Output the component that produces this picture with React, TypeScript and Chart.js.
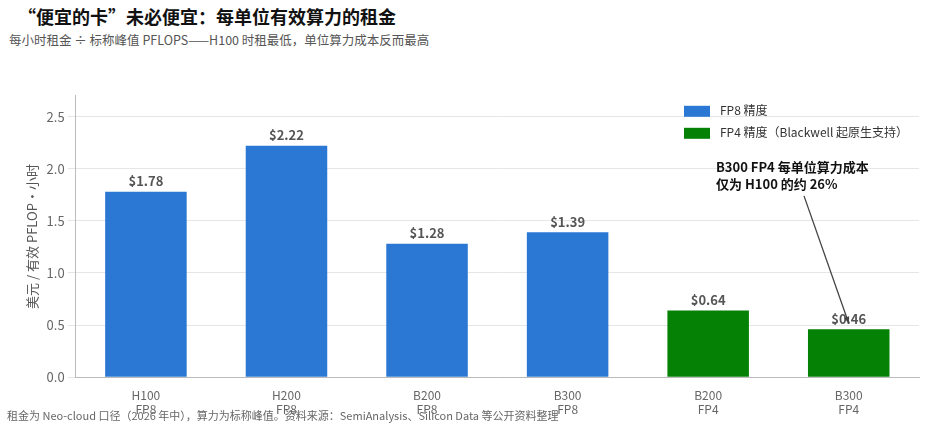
import { useEffect, useRef } from 'react';
import { Chart } from 'chart.js/auto';

const categories = [['H100', 'FP8'], ['H200', 'FP8'], ['B200', 'FP8'], ['B300', 'FP8'], ['B200', 'FP4'], ['B300', 'FP4']];
const fp8Values = [1.78, 2.22, 1.28, 1.39, null, null];
const fp4Values = [null, null, null, null, 0.64, 0.46];
const legendLabels = ['FP8 精度', 'FP4 精度（Blackwell 起原生支持）'];
const BLUE = '#2b78d4';
const GREEN = '#058205';
const FONT = '"Noto Sans CJK SC", "Noto Sans", sans-serif';

const overlay = {
  id: 'overlay',
  afterDatasetsDraw(chart: Chart) {
    const { ctx, chartArea, scales } = chart;
    const x = scales.x;
    const y = scales.y;
    ctx.save();
    // value labels
    ctx.font = `bold 13px ${FONT}`;
    ctx.fillStyle = '#555';
    ctx.textAlign = 'center';
    ctx.textBaseline = 'bottom';
    categories.forEach((_, i) => {
      const v = fp8Values[i] ?? fp4Values[i];
      if (v == null) return;
      ctx.fillText('$' + v.toFixed(2), x.getPixelForValue(i), y.getPixelForValue(v) - 4);
    });
    // legend
    const lx = chartArea.right - 235;
    let ly = chartArea.top + 15;
    ctx.font = `12px ${FONT}`;
    ctx.textAlign = 'left';
    ctx.textBaseline = 'middle';
    [BLUE, GREEN].forEach((c, i) => {
      ctx.fillStyle = c;
      ctx.fillRect(lx, ly + i * 22 - 5, 26, 11);
      ctx.fillStyle = '#333';
      ctx.fillText(legendLabels[i], lx + 36, ly + i * 22);
    });
    // annotation
    const tx = chartArea.right - 203;
    const ty = y.getPixelForValue(1.97);
    ctx.font = `bold 13px ${FONT}`;
    ctx.fillStyle = '#111';
    ctx.textBaseline = 'alphabetic';
    ctx.fillText('B300 FP4 每单位算力成本', tx, ty);
    ctx.fillText('仅为 H100 的约 26%', tx, ty + 17);
    const ax = x.getPixelForValue(5);
    const ay = y.getPixelForValue(0.46) - 6;
    const sx = tx + 88;
    const sy = ty + 24;
    ctx.strokeStyle = '#444';
    ctx.lineWidth = 1.3;
    ctx.beginPath();
    ctx.moveTo(sx, sy);
    ctx.lineTo(ax, ay);
    ctx.stroke();
    const ang = Math.atan2(ay - sy, ax - sx);
    ctx.beginPath();
    ctx.moveTo(ax, ay);
    ctx.lineTo(ax - 7 * Math.cos(ang - 0.4), ay - 7 * Math.sin(ang - 0.4));
    ctx.lineTo(ax - 7 * Math.cos(ang + 0.4), ay - 7 * Math.sin(ang + 0.4));
    ctx.closePath();
    ctx.fillStyle = '#444';
    ctx.fill();
    ctx.restore();
  },
};

export default function App() {
  const canvasRef = useRef<HTMLCanvasElement>(null);

  useEffect(() => {
    document.body.style.margin = '0';
    if (!canvasRef.current) return;
    const chart = new Chart(canvasRef.current, {
      type: 'bar',
      data: {
        labels: categories,
        datasets: [
          { data: fp8Values, backgroundColor: BLUE, categoryPercentage: 0.58, barPercentage: 1, skipNull: true },
          { data: fp4Values, backgroundColor: GREEN, categoryPercentage: 0.58, barPercentage: 1, skipNull: true },
        ] as any,
      },
      options: {
        responsive: false,
        animation: false,
        layout: { padding: { left: 20, right: 26, top: 0, bottom: 0 } },
        plugins: { legend: { display: false }, tooltip: { enabled: false } },
        scales: {
          x: {
            stacked: true,
            grid: { display: false },
            border: { color: '#bbb' },
            ticks: { color: '#666', font: { family: FONT, size: 12 } },
          },
          y: {
            min: 0,
            max: 2.7,
            afterBuildTicks: (s: any) => { s.ticks = [0, 0.5, 1, 1.5, 2, 2.5].map((v) => ({ value: v })); },
            grid: { color: '#e6e6e6' },
            border: { color: '#bbb' },
            ticks: { color: '#666', font: { family: FONT, size: 13 }, callback: (v: any) => Number(v).toFixed(1) },
            title: { display: true, text: '美元 / 有效 PFLOP·小时', color: '#555', font: { family: FONT, size: 13 } },
          },
        },
      },
      plugins: [overlay],
    });
    return () => chart.destroy();
  }, []);

  return (
    <div style={{ position: 'relative', width: 945, height: 428, background: '#fff', fontFamily: FONT, overflow: 'hidden' }}>
      <div style={{ position: 'absolute', left: 18, top: 3, fontSize: 18, fontWeight: 'bold', color: '#111' }}>
        “便宜的卡”未必便宜：每单位有效算力的租金
      </div>
      <div style={{ position: 'absolute', left: 9, top: 30, fontSize: 12.5, color: '#555' }}>
        每小时租金 ÷ 标称峰值 PFLOPS——H100 时租最低，单位算力成本反而最高
      </div>
      <canvas ref={canvasRef} width={945} height={335} style={{ position: 'absolute', left: 0, top: 85 }} />
      <div style={{ position: 'absolute', left: 7, top: 407, fontSize: 11, color: '#666' }}>
        租金为 Neo-cloud 口径（2026 年中），算力为标称峰值。资料来源：SemiAnalysis、Silicon Data 等公开资料整理
      </div>
    </div>
  );
}
